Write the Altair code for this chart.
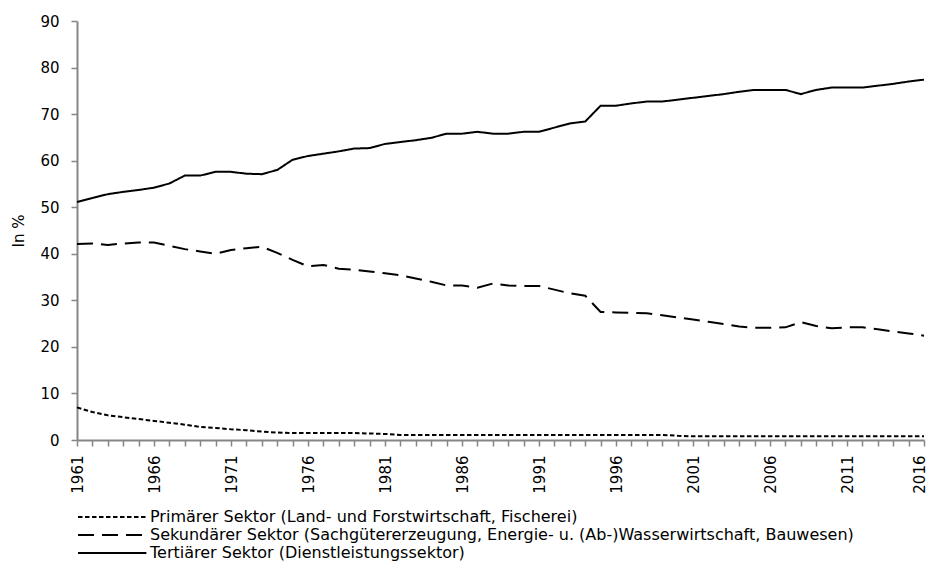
import altair as alt
import pandas as pd

years = list(range(1961, 2017))

primaer = [7.0, 6.0, 5.3, 4.9, 4.5, 4.1, 3.7, 3.3, 2.8, 2.6,
           2.3, 2.1, 1.8, 1.6, 1.5, 1.5, 1.5, 1.5, 1.5, 1.4,
           1.3, 1.1, 1.1, 1.1, 1.1, 1.1, 1.1, 1.1, 1.1, 1.1,
           1.1, 1.1, 1.1, 1.1, 1.1, 1.1, 1.1, 1.1, 1.1, 0.9,
           0.8, 0.8, 0.8, 0.8, 0.8, 0.8, 0.8, 0.8, 0.8, 0.8,
           0.8, 0.8, 0.8, 0.8, 0.8, 0.8]

sekundaer = [42.1, 42.2, 41.9, 42.2, 42.4, 42.4, 41.7, 41.0, 40.5, 40.0,
             40.8, 41.2, 41.5, 40.2, 38.7, 37.3, 37.6, 36.8, 36.6, 36.2,
             35.8, 35.4, 34.7, 34.0, 33.2, 33.2, 32.7, 33.6, 33.2, 33.1,
             33.1, 32.3, 31.5, 31.0, 27.5, 27.4, 27.3, 27.2, 26.8, 26.3,
             25.9, 25.4, 24.9, 24.4, 24.1, 24.1, 24.2, 25.3, 24.5, 24.0,
             24.2, 24.2, 23.8, 23.3, 22.9, 22.4]

tertiaer = [51.1, 52.0, 52.8, 53.3, 53.7, 54.2, 55.1, 56.8, 56.8, 57.6,
            57.6, 57.2, 57.1, 58.0, 60.2, 61.0, 61.5, 62.0, 62.6, 62.7,
            63.6, 64.0, 64.4, 64.9, 65.8, 65.8, 66.2, 65.8, 65.8, 66.2,
            66.2, 67.1, 68.0, 68.4, 71.8, 71.8, 72.3, 72.7, 72.7, 73.1,
            73.5, 73.9, 74.3, 74.8, 75.2, 75.2, 75.2, 74.3, 75.2, 75.7,
            75.7, 75.7, 76.1, 76.5, 77.0, 77.4]

labels = [
    "Primärer Sektor (Land- und Forstwirtschaft, Fischerei)",
    "Sekundärer Sektor (Sachgütererzeugung, Energie- u. (Ab-)Wasserwirtschaft, Bauwesen)",
    "Tertiärer Sektor (Dienstleistungssektor)",
]

rows = []
for name, series in zip(labels, [primaer, sekundaer, tertiaer]):
    for y, v in zip(years, series):
        rows.append({"Jahr": y, "Wert": v, "Sektor": name})
df = pd.DataFrame(rows)

FONT = "DejaVu Sans"
AXIS_COLOR = "#868686"

chart = alt.Chart(df).mark_line(strokeWidth=2, color="black").encode(
    x=alt.X("Jahr:Q",
            scale=alt.Scale(domain=[1961, 2016], nice=False, zero=False),
            axis=alt.Axis(values=years, format="d", labelAngle=270,
                          labelAlign="right", labelBaseline="middle",
                          labelExpr="(datum.value - 1961) % 5 == 0 ? datum.label : ''",
                          labelOffset={"condition": {"test": "datum.value == 2016", "value": -5},
                                       "value": 0},
                          labelPadding=9, tickSize=6, title=None,
                          grid=False)),
    y=alt.Y("Wert:Q",
            scale=alt.Scale(domain=[0, 90], nice=False),
            axis=alt.Axis(values=list(range(0, 91, 10)), title="In %",
                          tickSize=6, labelPadding=12, grid=False,
                          titlePadding=13)),
    strokeDash=alt.StrokeDash("Sektor:N",
                              scale=alt.Scale(domain=labels,
                                              range=[[4.5, 2.5], [16, 8], [1, 0]]),
                              legend=alt.Legend(title=None, orient="none",
                                                legendX=0, legendY=486,
                                                symbolType="M-1,0H6.6",
                                                symbolSize=324,
                                                symbolStrokeWidth=2,
                                                symbolStrokeColor="black",
                                                symbolFillColor="transparent",
                                                labelOffset=53,
                                                labelFontSize=16,
                                                labelFont=FONT,
                                                labelColor="black",
                                                labelLimit=900,
                                                rowPadding=0)),
).properties(
    width=847, height=419,
    padding={"left": 69, "top": 13, "right": 4, "bottom": 124},
    autosize=alt.AutoSizeParams(type="none"),
).configure_axis(
    domainColor=AXIS_COLOR, tickColor=AXIS_COLOR, domainWidth=2, tickWidth=1.5,
    labelColor="black", labelFont=FONT, labelFontSize=15,
    titleFont=FONT, titleFontSize=15, titleFontWeight="normal", titleColor="black",
).configure_view(stroke=None)

chart.save("out.html", embed_options={"renderer": "svg", "actions": False})
